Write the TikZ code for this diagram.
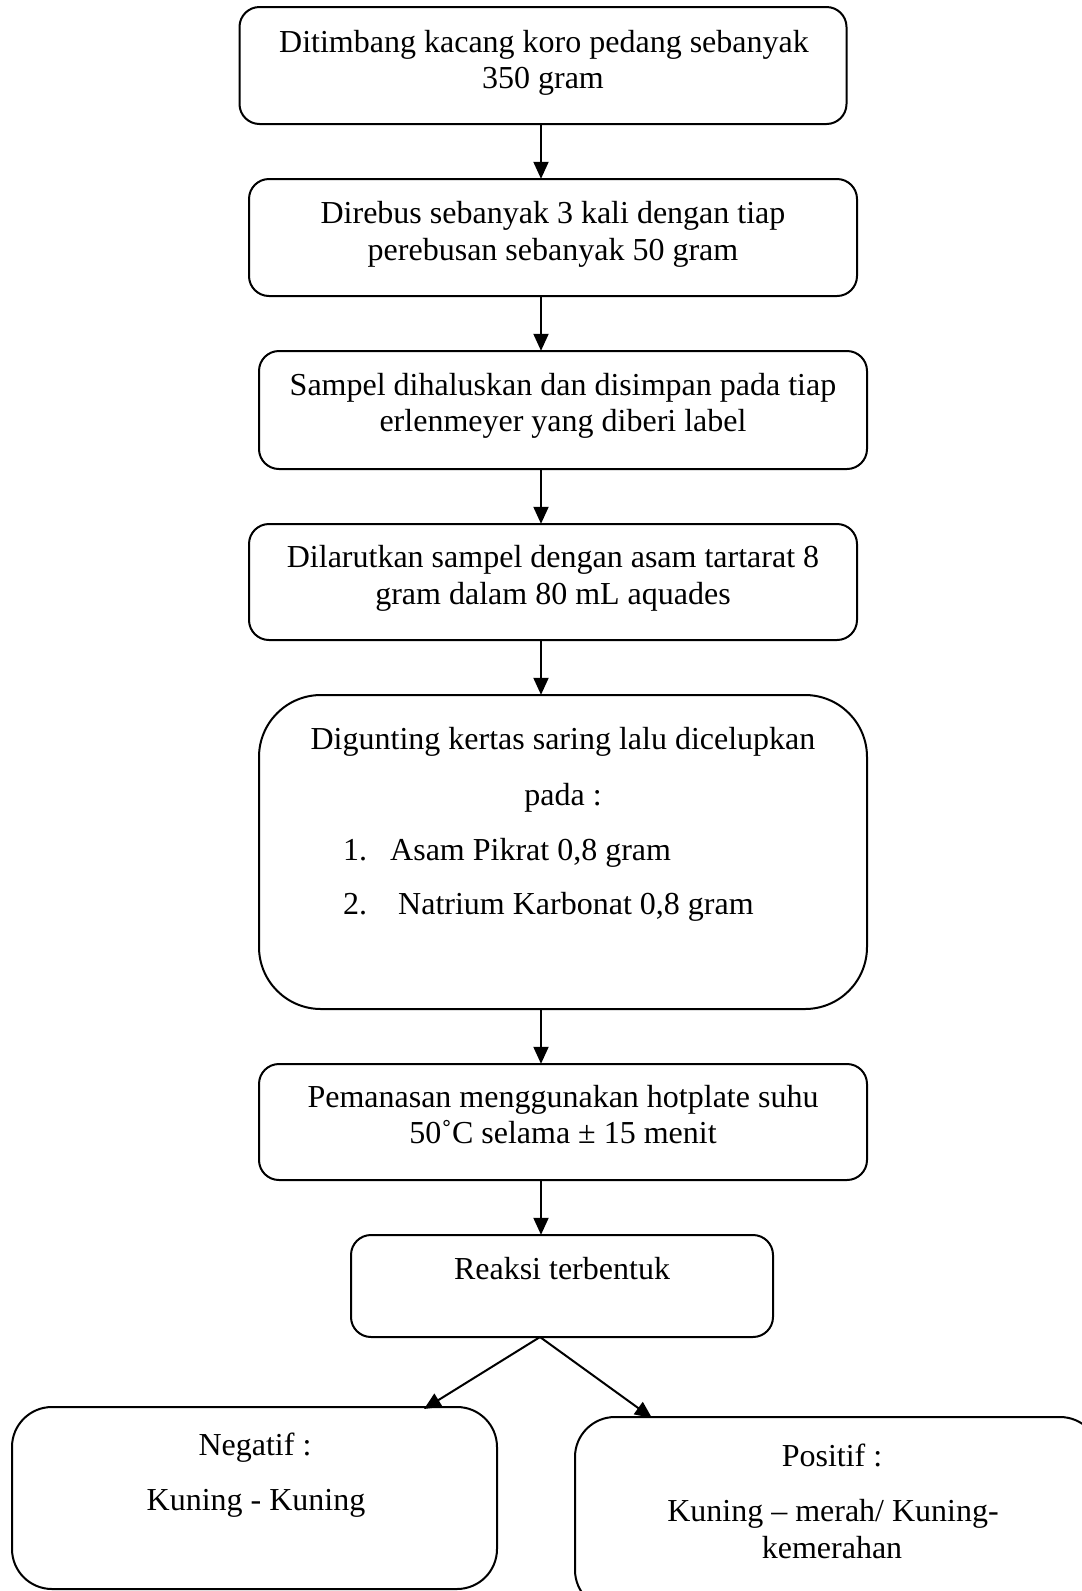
\documentclass[tikz,border=0pt]{standalone}
\usepackage{fontspec}
\setmainfont{Liberation Serif}
\usetikzlibrary{arrows.meta}
\begin{document}
\begin{tikzpicture}[x=1pt,y=-1pt,
  box/.style={draw, line width=2pt, rounded corners=#1, inner sep=0pt},
  box/.default=20pt,
  txt/.style={inner sep=0pt, anchor=base, font=\fontsize{32}{36.5}\selectfont},
  ltxt/.style={txt, anchor=base west},
  arr/.style={line width=2pt, -{Triangle[length=17pt,width=15pt]}}]
\useasboundingbox (0,0) rectangle (1082,1591);
\clip (0,0) rectangle (1082,1591);
% boxes
\draw[box] (239.5,7) rectangle (846.5,124);
\node (b1) at (543,65.5) [minimum width=607pt, minimum height=117pt] {};
\draw[box] (249,179) rectangle (857,296);
\node (b2) at (553,237.5) [minimum width=608pt, minimum height=117pt] {};
\draw[box] (259,351) rectangle (867,469);
\node (b3) at (563,410) [minimum width=608pt, minimum height=118pt] {};
\draw[box] (249,524) rectangle (857,640);
\node (b4) at (553,582) [minimum width=608pt, minimum height=116pt] {};
\draw[box=62pt] (259,695) rectangle (867,1009);
\node (b5) at (563,852) [minimum width=608pt, minimum height=314pt] {};
\draw[box] (259,1064) rectangle (867,1180);
\node (b6) at (563,1122) [minimum width=608pt, minimum height=116pt] {};
\draw[box] (351,1235) rectangle (773,1337);
\node (b7) at (562,1286) [minimum width=422pt, minimum height=102pt] {};
\draw[box=40pt] (12,1407) rectangle (497,1589);
\node (b8) at (254.5,1498) [minimum width=485pt, minimum height=182pt] {};
\draw[box=40pt] (575,1417) rectangle (1100,1610);
\node (b9) at (837.5,1513) [minimum width=525pt, minimum height=193pt] {};
\coordinate (ax) at (541,0);
% texts
\node[txt] (t1a) at (544,52) {Ditimbang kacang koro pedang sebanyak};
\node[txt] (t1b) at (543,88.5) {350 gram};
\node[txt] (t2a) at (553,223.5) {Direbus sebanyak 3 kali dengan tiap};
\node[txt] (t2b) at (553,260) {perebusan sebanyak 50 gram};
\node[txt] (t3a) at (563,395.5) {Sampel dihaluskan dan disimpan pada tiap};
\node[txt] (t3b) at (563,431.5) {erlenmeyer yang diberi label};
\node[txt] (t4a) at (553,567.5) {Dilarutkan sampel dengan asam tartarat 8};
\node[txt] (t4b) at (553,604) {gram dalam 80 mL aquades};
\node[txt] (t5a) at (563,749.5) {Digunting kertas saring lalu dicelupkan};
\node[txt] (t5b) at (563,805.5) {pada :};
\node[ltxt] (t5c) at (343,860) {1.};
\node[ltxt] (t5d) at (390,860) {Asam Pikrat 0,8 gram};
\node[ltxt] (t5e) at (343,914) {2.};
\node[ltxt] (t5f) at (398,914) {Natrium Karbonat 0,8 gram};
\node[txt] (t6a) at (563,1107.5) {Pemanasan menggunakan hotplate suhu};
\node[txt] (t6b) at (563,1143.5) {50˚C selama ± 15 menit};
\node[txt] (t7) at (562,1279.5) {Reaksi terbentuk};
\node[txt] (t8a) at (255,1455.5) {Negatif :};
\node[txt] (t8b) at (256,1510.5) {Kuning - Kuning};
\node[txt] (t9a) at (832,1466.5) {Positif :};
\node[txt] (t9b) at (833,1521.5) {Kuning – merah/ Kuning-};
\node[txt] (t9c) at (832,1558.5) {kemerahan};
% connectors
\draw[arr] (b1.south -| ax) -- (b2.north -| ax);
\draw[arr] (b2.south -| ax) -- (b3.north -| ax);
\draw[arr] (b3.south -| ax) -- (b4.north -| ax);
\draw[arr] (b4.south -| ax) -- (b5.north -| ax);
\draw[arr] (b5.south -| ax) -- (b6.north -| ax);
\draw[arr] (b6.south -| ax) -- (b7.north -| ax);
\coordinate (split) at (540,1337);
\coordinate (lt) at (424,1409);
\coordinate (rt) at (652,1418);
\draw[arr] (split) -- (lt);
\draw[arr] (split) -- (rt);
\end{tikzpicture}
\end{document}
